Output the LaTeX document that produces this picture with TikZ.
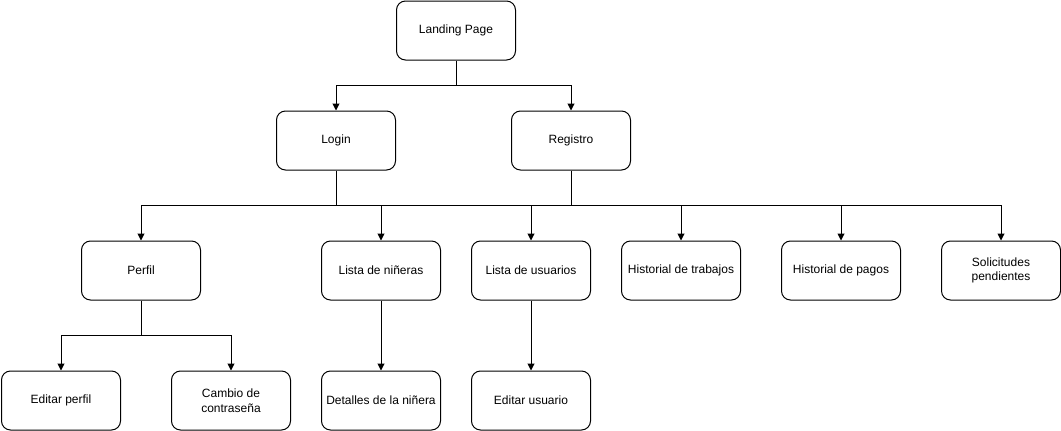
\documentclass[tikz,border=0pt]{standalone}
\usepackage{fontspec}
\setmainfont{Liberation Sans}
\usetikzlibrary{arrows.meta}
\tikzset{
  page/.style={draw, line width=1pt, rounded corners=9pt, minimum width=119pt, minimum height=59pt,
    align=center, inner sep=2pt, font=\fontsize{12}{14.5}\selectfont},
  arrow/.style={-{Triangle[length=7pt,width=7pt]}, line width=1pt},
  link/.style={line width=1pt}
}
\begin{document}
\begin{tikzpicture}[x=1pt,y=-1pt]
			\useasboundingbox (0,0) rectangle (1061,431);
			% top level
			\node[page] (landing) at (456,30.5) {Landing Page};
			\node[page] (login) at (336,140.5) {Login};
			\node[page] (registro) at (571,140.5) {Registro};
			% second level
			\node[page] (perfil) at (141,270.5) {Perfil};
			\node[page] (ninieras) at (381,270.5) {Lista de niñeras};
			\node[page] (usuarios) at (531,270.5) {Lista de usuarios};
			\node[page] (trabajos) at (681,270.5) {Historial de trabajos};
			\node[page] (pagos) at (841,270.5) {Historial de pagos};
			\node[page] (solicitudes) at (1001,270.5) {Solicitudes\\pendientes};
			% third level
			\node[page] (editperfil) at (61,400.5) {Editar perfil};
			\node[page] (contrasena) at (231,400.5) {Cambio de\\contraseña};
			\node[page] (detalles) at (381,400.5) {Detalles de la niñera};
			\node[page] (editusuario) at (531,400.5) {Editar usuario};
			% junctions
			\coordinate (j1) at (456,85);
			\coordinate (j2) at (336,205);
			\coordinate (j3) at (571,205);
			\coordinate (j4) at (141,335);
			% connectors
			\draw[link] (landing.south) -- (j1);
			\draw[arrow] (j1) -| (login.north);
			\draw[arrow] (j1) -| (registro.north);
			\draw[link] (login.south) -- (j2);
			\draw[link] (registro.south) -- (j3);
			\draw[arrow] (j2) -| (perfil.north);
			\draw[arrow] (j2) -| (ninieras.north);
			\draw[arrow] (j3) -| (usuarios.north);
			\draw[arrow] (j3) -| (trabajos.north);
			\draw[arrow] (j3) -| (pagos.north);
			\draw[arrow] (j3) -| (solicitudes.north);
			\draw[link] (j2) -- (j3);
			\draw[link] (perfil.south) -- (j4);
			\draw[arrow] (j4) -| (editperfil.north);
			\draw[arrow] (j4) -| (contrasena.north);
			\draw[arrow] (ninieras) -- (detalles);
			\draw[arrow] (usuarios) -- (editusuario);
		\end{tikzpicture}
\end{document}
